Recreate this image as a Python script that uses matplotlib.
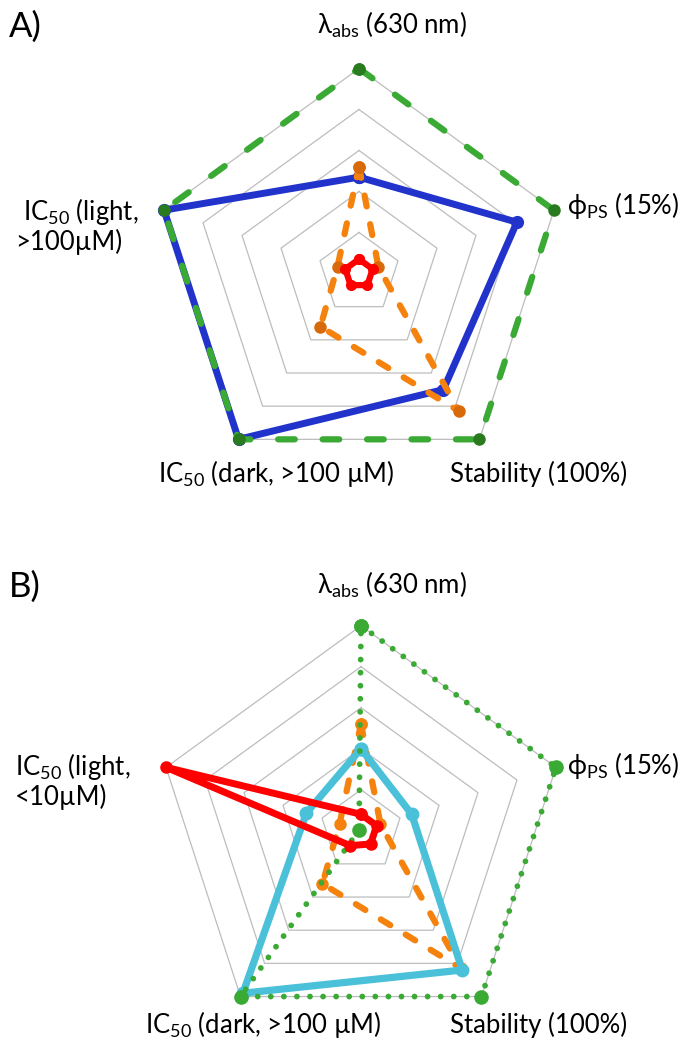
import numpy as np
import matplotlib
matplotlib.use("Agg")
import matplotlib.pyplot as plt

plt.rcParams["font.family"] = ["Lato", "DejaVu Sans"]
plt.rcParams["lines.scale_dashes"] = False

# axes order (clockwise from top)
axis_names = ["lambda", "phi_PS", "stability", "IC50_dark", "IC50_light"]
rings = [20, 40, 60, 80, 100]

# panel A values (% of axis maximum)
a_green = [100, 100, 100, 100, 100]
a_blue = [47, 81, 70, 100, 100]
a_orange = [52, 10, 83, 32, 11]
a_red = [7, 7, 7, 7, 7]

# panel B values
b_green = [100, 100, 100, 100, 1]
b_cyan = [40, 26, 84, 98, 28]
b_orange = [52, 10, 83, 32, 11]
b_red = [8, 8, 8, 9, 100]

W, H = 685, 1050
fig = plt.figure(figsize=(W / 100, H / 100), dpi=100)

theta = np.linspace(0, 2 * np.pi, len(axis_names), endpoint=False)
theta_c = np.append(theta, theta[0])


def closed(v):
    return np.append(v, v[0])


def make_ax(cx, cy, R):
    ax = fig.add_axes([(cx - R) / W, 1 - (cy + R) / H, 2 * R / W, 2 * R / H],
                      projection="polar")
    ax.set_theta_offset(np.pi / 2)
    ax.set_theta_direction(-1)
    ax.set_ylim(0, 100)
    ax.grid(False)
    ax.set_xticks([])
    ax.set_yticks([])
    ax.spines["polar"].set_visible(False)
    ax.patch.set_visible(False)
    for r in rings:
        ax.plot(theta_c, [r] * len(theta_c), color="#bdbdbd", lw=0.9, zorder=1)
    return ax


def series(ax, vals, color, lw, ms, mcolor=None, dashes=None, z=2):
    line, = ax.plot(theta_c, closed(vals), color=color, lw=lw, marker="o",
                    ms=ms, mfc=mcolor or color, mec=mcolor or color,
                    solid_joinstyle="round", dash_capstyle="round",
                    clip_on=False, zorder=z)
    if dashes is not None:
        line.set_dashes(dashes)
    return line


def ftext(x, y, s, size=18.5, **kw):
    fig.text(x / W, 1 - y / H, s, fontsize=size, va="baseline", ha="left", **kw)


lam = r"λ$_\mathregular{abs}$ (630 nm)"
phi = r"ϕ$_\mathregular{PS}$ (15%)"
ic = r"IC$_\mathregular{50}$"

# ---- panel A
ax = make_ax(359, 273.5, 205)
series(ax, a_blue, "#2233cc", 5, 8.5, z=3)
series(ax, a_green, "#3aaa35", 4.5, 8, mcolor="#2a7a1f", dashes=(12, 20), z=4)
series(ax, a_orange, "#f5820d", 4.5, 8, mcolor="#d96a0a", dashes=(8, 13), z=5)
series(ax, a_red, "#ff0000", 4.5, 7, z=6)

ftext(9, 37, "A)", size=25)
ftext(317, 33, lam)
ftext(567, 214, phi)
ftext(450, 482, "Stability (100%)")
ftext(158, 482, ic + " (dark, >100 µM)")
ftext(23, 220, ic + " (light,")
ftext(15, 250, ">100µM)")

# ---- panel B
ax = make_ax(361, 830.7, 205)
series(ax, b_orange, "#f5820d", 4.5, 8, mcolor="#f5820d", dashes=(8, 13), z=3)
series(ax, b_cyan, "#4bc0d9", 5.2, 9, z=4)
series(ax, b_green, "#3aaa35", 4.2, 9.5, dashes=(0.01, 9.4), z=5)
series(ax, b_red, "#ff0000", 5, 8, z=6)

ftext(9, 597, "B)", size=25)
ftext(317, 593, lam)
ftext(567, 774, phi)
ftext(450, 1033, "Stability (100%)")
ftext(145, 1033, ic + " (dark, >100 µM)")
ftext(15, 775, ic + " (light,")
ftext(15, 805, "<10µM)")

fig.savefig("out.png", dpi=100)
